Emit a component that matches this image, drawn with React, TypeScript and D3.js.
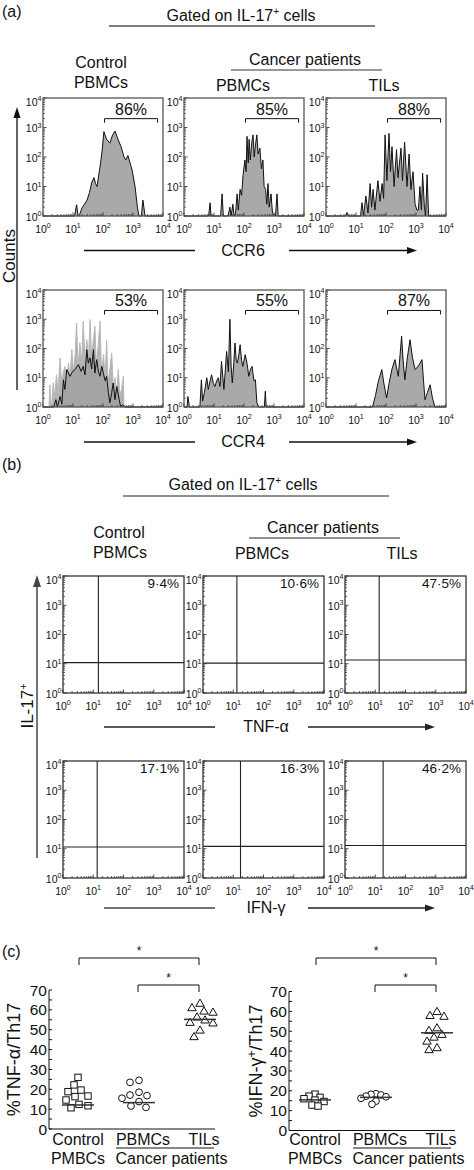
import React from "react";
import * as d3 from "d3";

const FONT = "'Liberation Sans', Arial, Helvetica, sans-serif";

// ---------------- Panel (a): histograms, pairs of [log10 intensity, log10 count]
const ccr6Control = [[0,0],[1.05,0],[1.12,0.38],[1.17,0],[1.22,0.05],[1.3,0.27],[1.47,0.54],[1.55,0.8],[1.63,1.15],[1.7,1.3],[1.75,1.1],[1.8,1.0],[1.9,1.66],[1.97,2.2],[2.03,2.86],[2.12,2.6],[2.23,2.47],[2.32,2.75],[2.4,2.88],[2.5,2.6],[2.6,2.35],[2.7,2.0],[2.76,1.9],[2.83,2.05],[2.97,1.56],[3.07,0.98],[3.15,0.27],[3.2,0],[3.28,0],[3.33,0.54],[3.4,0],[4,0]];
const ccr6Pbmc = [[0,0],[0.82,0],[0.87,0.45],[0.9,0],[1.22,0],[1.27,0.75],[1.31,0],[1.47,0],[1.53,0.3],[1.57,0],[1.63,0.4],[1.67,0],[1.72,0.1],[1.77,0.75],[1.81,0.2],[1.87,0.9],[1.92,0.7],[1.97,1.4],[2.03,1.9],[2.07,1.5],[2.1,2.7],[2.14,1.8],[2.17,2.6],[2.21,1.9],[2.26,2.5],[2.3,2.75],[2.34,2.0],[2.38,2.4],[2.43,2.75],[2.47,2.1],[2.53,2.3],[2.58,1.6],[2.63,1.9],[2.67,1.0],[2.72,0.9],[2.76,0.4],[2.8,1.1],[2.84,0.3],[2.9,0.75],[2.95,0.1],[3.05,0],[3.1,0.75],[3.14,0],[4,0]];
const ccr6Til = [[0,0],[0.65,0],[0.7,0.12],[0.75,0],[1.15,0],[1.2,0.45],[1.25,0],[1.33,0.68],[1.4,0.1],[1.47,1.1],[1.52,0.3],[1.57,0.9],[1.63,0.2],[1.73,1.2],[1.8,0.5],[1.87,1.1],[1.92,0.6],[1.97,2.75],[2.03,1.2],[2.1,2.8],[2.15,1.5],[2.2,2.35],[2.27,1.0],[2.35,2.25],[2.4,1.3],[2.5,2.3],[2.55,1.2],[2.62,2.5],[2.7,1.0],[2.77,2.1],[2.83,0.9],[2.9,1.5],[2.97,0.4],[3.03,0.2],[3.08,0.2],[3.13,1.0],[3.18,0.2],[3.22,1.45],[3.28,0.3],[3.32,0],[3.37,1.4],[3.42,0],[4,0]];
const ccr4ControlGray = [[0,0],[0.2,0],[0.23,0.75],[0.26,0],[0.3,0.2],[0.34,0.82],[0.38,0.3],[0.45,1.1],[0.5,0.5],[0.57,1.68],[0.62,0.8],[0.68,1.2],[0.73,1.39],[0.78,0.9],[0.85,1.5],[0.9,1.0],[0.96,1.96],[1.02,1.2],[1.07,1.8],[1.12,2.87],[1.17,1.4],[1.23,2.2],[1.29,1.5],[1.34,2.93],[1.4,1.6],[1.46,2.3],[1.52,1.7],[1.57,2.99],[1.62,1.6],[1.67,2.2],[1.73,2.76],[1.78,1.4],[1.84,2.1],[1.9,2.93],[1.95,1.2],[2.02,1.8],[2.07,0.9],[2.12,2.3],[2.17,0.8],[2.23,1.3],[2.29,1.85],[2.34,0.7],[2.4,1.0],[2.45,0.4],[2.51,1.28],[2.56,0.4],[2.62,0.6],[2.68,1.05],[2.7,0],[4,0]];
const ccr4ControlBlack = [[0,0],[0.36,0],[0.43,0.25],[0.48,0],[0.57,0.36],[0.63,0.1],[0.68,0.93],[0.73,0.6],[0.79,1.28],[0.9,1.05],[0.99,1.22],[1.07,1.28],[1.18,1.45],[1.27,1.22],[1.34,1.39],[1.4,1.1],[1.46,1.96],[1.51,1.5],[1.57,1.68],[1.62,1.3],[1.68,1.96],[1.73,1.16],[1.79,1.62],[1.85,1.2],[1.9,1.05],[1.96,1.39],[2.01,1.16],[2.07,0.9],[2.12,1.05],[2.18,0.48],[2.23,0.14],[2.29,0.5],[2.34,0.82],[2.4,0.25],[2.46,0.7],[2.54,0.25],[2.59,0],[2.65,0.08],[2.73,0],[4,0]];
const ccr4Pbmc = [[0,0],[0.1,0],[0.13,0.36],[0.18,0],[0.53,0],[0.58,0.93],[0.62,0.2],[0.68,0.5],[0.76,1.0],[0.81,0.6],[0.87,0.9],[0.92,1.1],[0.98,0.8],[1.03,0.7],[1.09,0.9],[1.14,1.0],[1.2,0.7],[1.25,1.56],[1.33,0.6],[1.38,1.3],[1.42,1.9],[1.48,1.2],[1.53,3.0],[1.57,1.4],[1.61,0.82],[1.66,1.5],[1.7,2.19],[1.74,1.6],[1.78,1.5],[1.83,1.8],[1.87,2.13],[1.92,1.6],[1.96,1.39],[2.0,1.6],[2.04,1.79],[2.1,1.5],[2.16,1.05],[2.22,1.3],[2.27,1.39],[2.33,0.9],[2.38,0.93],[2.43,0.14],[2.49,0],[2.68,0],[2.71,0.54],[2.74,0],[4,0]];
const ccr4Til = [[0,0],[1.55,0],[1.65,0.4],[1.75,0.9],[1.86,1.28],[1.93,0.8],[2.02,0.31],[2.1,0.8],[2.2,1.3],[2.3,1.62],[2.36,1.3],[2.41,1.05],[2.47,1.8],[2.52,2.42],[2.57,1.6],[2.63,0.93],[2.7,1.6],[2.8,2.3],[2.88,1.7],[2.97,1.28],[3.08,1.4],[3.2,1.62],[3.25,0.9],[3.3,0.25],[3.38,0.5],[3.47,0.76],[3.55,0.3],[3.63,0],[4,0]];
const ccr6Pct = [86, 85, 88];
const ccr4Pct = [53, 55, 87];
const gateRange = [2.05, 3.82]; // log10 intensity
const gateLevel = 3.3; // log10 count
const decades = [0, 1, 2, 3, 4];

// ---------------- Panel (b): quadrant plots
const tnfPct = [9.4, 10.6, 47.5];
const ifnPct = [17.1, 16.3, 46.2];
const tnfQuad = [[1.17, 1.04], [1.12, 1.02], [1.13, 1.13]]; // log10 x, log10 y
const ifnQuad = [[1.13, 1.06], [1.24, 1.08], [1.26, 1.11]];

// ---------------- Panel (c): scatter
const categories = ["Control", "PBMCs", "TILs"];
const tnfControl = [26.0, 22.2, 19.6, 18.8, 16.6, 16.3, 14.6, 12.4, 11.7, 10.7];
const tnfPbmc = [24.5, 23.5, 18.5, 17.1, 16.8, 15.5, 13.8, 11.6, 10.9];
const tnfTil = [63.3, 61.1, 59.4, 58.8, 56.4, 54.9, 53.7, 53.4, 49.8, 46.5];
const tnfMedian = [12.1, 13.3, 55.2];
const ifnControl = [18.3, 17.3, 16.7, 16.0, 15.3, 14.6, 12.8, 12.3];
const ifnPbmc = [18.5, 18.2, 17.9, 17.3, 17.0, 16.2, 14.8, 13.2];
const ifnTil = [59.9, 57.9, 57.5, 51.7, 50.4, 48.4, 47.0, 45.0, 41.7, 40.7];
const ifnMedian = [15.4, 16.7, 49.2];
const pctTicks = [0, 10, 20, 30, 40, 50, 60, 70];
const sigPairs = [["Control", "TILs"], ["PBMCs", "TILs"]];

// ---------------- helpers
const pow = (e: number) => Math.pow(10, e);

function Pow10({ x, y, e, anchor = "middle", size = 10.5 }: any) {
  return (
    <text x={x} y={y} textAnchor={anchor} fontSize={size} fontFamily={FONT} fill="#111">
      10<tspan dy={-4.5} fontSize={size * 0.68}>{e}</tspan>
    </text>
  );
}

function LogFrame({ left, top, w, h, xLabels, frameColor = "#555" }: any) {
  const x = d3.scaleLog().domain([1, 1e4]).range([left, left + w]);
  const y = d3.scaleLog().domain([1, 1e4]).range([top + h, top]);
  const minors: number[] = [];
  for (let k = 0; k < 4; k++) for (let m = 2; m <= 9; m++) minors.push(m * pow(k));
  return (
    <g>
      {minors.map((v, i) => (
        <g key={"m" + i} stroke="#222" strokeWidth={0.7}>
          <line x1={x(v)} x2={x(v)} y1={top + h} y2={top + h - 2} />
          <line x1={left} x2={left + 2} y1={y(v)} y2={y(v)} />
        </g>
      ))}
      {decades.map((d) => (
        <g key={"d" + d} stroke="#222" strokeWidth={0.8}>
          <line x1={x(pow(d))} x2={x(pow(d))} y1={top + h} y2={top + h - 3.5} />
          <line x1={left} x2={left + 3.5} y1={y(pow(d))} y2={y(pow(d))} />
        </g>
      ))}
      <rect x={left} y={top} width={w} height={h} fill="none" stroke={frameColor} strokeWidth={1.3} />
      {decades.map((d) => (
        <Pow10 key={"yl" + d} x={left - 1.5} y={y(pow(d)) + (d === 4 ? 7.5 : 4.5)} e={d} anchor="end" />
      ))}
      {xLabels && decades.map((d) => (
        <Pow10 key={"xl" + d} x={x(pow(d))} y={top + h + 16.5} e={d} />
      ))}
    </g>
  );
}

function Hist({ left, top, w, h, series, pct }: any) {
  const x = d3.scaleLog().domain([1, 1e4]).range([left, left + w]);
  const y = d3.scaleLog().domain([1, 1e4]).range([top + h, top]);
  const area = d3.area<number[]>().x((d) => x(pow(d[0]))).y0(top + h).y1((d) => y(pow(d[1])));
  const line = d3.line<number[]>().x((d) => x(pow(d[0]))).y((d) => y(pow(d[1])));
  const gx0 = x(pow(gateRange[0]));
  const gx1 = x(pow(gateRange[1]));
  const gy = y(pow(gateLevel));
  return (
    <g>
      {series.map((s: any, i: number) => (
        <g key={i}>
          <path d={area(s.data) || ""} fill={s.fill} stroke="none" />
          <path d={line(s.data) || ""} fill="none" stroke={s.stroke} strokeWidth={1} strokeLinejoin="round" />
        </g>
      ))}
      <LogFrame left={left} top={top} w={w} h={h} xLabels />
      <path d={`M${gx0},${gy + 4}V${gy}H${gx1}V${gy + 4}`} fill="none" stroke="#111" strokeWidth={1} />
      <text x={(gx0 + gx1) / 2} y={gy - 4} textAnchor="middle" fontSize={16} fontFamily={FONT} fill="#111">{pct}%</text>
    </g>
  );
}

function Quad({ left, top, w, h, quad, pct }: any) {
  const x = d3.scaleLog().domain([1, 1e4]).range([left, left + w]);
  const y = d3.scaleLog().domain([1, 1e4]).range([top + h, top]);
  return (
    <g>
      <line x1={x(pow(quad[0]))} x2={x(pow(quad[0]))} y1={top} y2={top + h} stroke="#222" strokeWidth={1.1} />
      <line x1={left} x2={left + w} y1={y(pow(quad[1]))} y2={y(pow(quad[1]))} stroke="#222" strokeWidth={1.1} />
      <LogFrame left={left} top={top} w={w} h={h} xLabels frameColor="#333" />
      <text x={left + w - 5} y={top + 12} textAnchor="end" fontSize={13.5} fontFamily={FONT} fill="#111">
        {String(pct.toFixed(1)).replace(".", "·")}%
      </text>
    </g>
  );
}

function swarm(vals: number[], cx: number, y: (v: number) => number, dist: number) {
  const placed: { x: number; y: number }[] = [];
  const sorted = [...vals].sort((a, b) => b - a);
  for (const v of sorted) {
    const py = y(v);
    let dx = 0;
    for (let k = 0; k < 80; k++) {
      const cand = k === 0 ? 0 : k % 2 ? -Math.ceil(k / 2) : Math.ceil(k / 2);
      const ok = placed.every((p) => Math.hypot(p.x - (cx + cand), p.y - py) >= dist);
      if (ok) { dx = cand; break; }
    }
    placed.push({ x: cx + dx, y: py });
  }
  return placed;
}

function Marker({ kind, x, y }: any) {
  const common = { fill: "#fff", stroke: "#111", strokeWidth: 1 };
  if (kind === 0) return <rect x={x - 3.2} y={y - 3.2} width={6.4} height={6.4} {...common} />;
  if (kind === 1) return <circle cx={x} cy={y} r={3.4} {...common} />;
  return <path d={`M${x},${y - 4.2}L${x + 4.2},${y + 3}L${x - 4.2},${y + 3}Z`} {...common} />;
}

function Scatter({ axisX, y0, y70, xr, groups, medians, label, labelX, dists }: any) {
  const y = d3.scaleLinear().domain([0, 70]).range([y0, y70]);
  const xs = d3.scalePoint<string>().domain(categories).range(xr);
  const minorTicks = d3.range(0, 71, 5);
  const axisEnd = axisX + 166;
  const b1 = 958, b2 = 985;
  return (
    <g fontFamily={FONT} fill="#111">
      <line x1={axisX} x2={axisX} y1={y(70)} y2={y(0)} stroke="#111" strokeWidth={1} />
      <line x1={axisX} x2={axisEnd} y1={y(0)} y2={y(0)} stroke="#111" strokeWidth={1} />
      {minorTicks.map((t) => (
        <line key={t} x1={axisX} x2={axisX + 3} y1={y(t)} y2={y(t)} stroke="#111" strokeWidth={1} />
      ))}
      {pctTicks.map((t) => (
        <text key={t} x={axisX - 2} y={y(t) + 5.5} textAnchor="end" fontSize={15.5}>{t}</text>
      ))}
      <text transform={`translate(${labelX},${(y(0) + y(70)) / 2}) rotate(-90)`} textAnchor="middle" fontSize={18}>
        {label}
      </text>
      {groups.map((vals: number[], gi: number) =>
        swarm(vals, xs(categories[gi])!, y, dists[gi]).map((p, i) => <Marker key={gi + "-" + i} kind={gi} x={p.x} y={p.y} />)
      )}
      {medians.map((m: number, gi: number) => (
        <line key={"md" + gi} x1={xs(categories[gi])! - 16} x2={xs(categories[gi])! + 16} y1={y(m)} y2={y(m)} stroke="#333" strokeWidth={1.5} />
      ))}
      {sigPairs.map((pair, i) => {
        const a = xs(pair[0])! + (i === 0 ? 1 : -1);
        const b = xs(pair[1])! - 1;
        const by = i === 0 ? b1 : b2;
        return (
          <g key={"sig" + i}>
            <path d={`M${a},${by + 7}V${by}H${b}V${by + 7}`} fill="none" stroke="#111" strokeWidth={1} />
            <text x={(a + b) / 2} y={by - 3} textAnchor="middle" fontSize={12}>*</text>
          </g>
        );
      })}
      <text x={xs("Control")} y={1145} textAnchor="middle" fontSize={16}>Control</text>
      <text x={xs("Control")} y={1164} textAnchor="middle" fontSize={16}>PMBCs</text>
      <text x={xs("PBMCs")! + 4} y={1145} textAnchor="middle" fontSize={16}>PBMCs</text>
      <text x={xs("TILs")! + 4} y={1145} textAnchor="middle" fontSize={16}>TILs</text>
      <line x1={xs("PBMCs")! - 23} x2={xs("TILs")! + 14} y1={1148} y2={1148} stroke="#111" strokeWidth={1} />
      <text x={(xs("PBMCs")! + xs("TILs")!) / 2 + 2} y={1164} textAnchor="middle" fontSize={16}>Cancer patients</text>
    </g>
  );
}

function Txt({ x, y, children, size = 16, anchor = "middle" }: any) {
  return (
    <text x={x} y={y} textAnchor={anchor} fontSize={size} fontFamily={FONT} fill="#111">{children}</text>
  );
}

function ArrowLine({ x1, x2, y, color = "#111", arrow = false }: any) {
  return (
    <g>
      <line x1={x1} x2={arrow ? x2 - 6 : x2} y1={y} y2={y} stroke={color} strokeWidth={1.3} />
      {arrow && <path d={`M${x2},${y}L${x2 - 10},${y - 3.5}L${x2 - 10},${y + 3.5}Z`} fill={color} />}
    </g>
  );
}

export default function App() {
  const aLefts = [43, 184, 326];
  const aTops = [98, 290];
  const bLefts = [63, 203, 345];
  const bTops = [576, 761];
  const ccr6Series = [
    [{ data: ccr6Control, fill: "#a9a9a9", stroke: "#111" }],
    [{ data: ccr6Pbmc, fill: "#a9a9a9", stroke: "#111" }],
    [{ data: ccr6Til, fill: "#a9a9a9", stroke: "#111" }],
  ];
  const ccr4Series = [
    [
      { data: ccr4ControlGray, fill: "#b3b3b3", stroke: "#b8b8b8" },
      { data: ccr4ControlBlack, fill: "#a4a4a4", stroke: "#111" },
    ],
    [{ data: ccr4Pbmc, fill: "#a9a9a9", stroke: "#111" }],
    [{ data: ccr4Til, fill: "#a9a9a9", stroke: "#111" }],
  ];
  return (
    <svg width={474} height={1170} style={{ position: "absolute", left: 0, top: 0, background: "#fff" }}>
      <rect width={474} height={1170} fill="#fff" />
      {/* Panel (a) */}
      <Txt x={2} y={17} anchor="start">(a)</Txt>
      <text x={241} y={21} textAnchor="middle" fontSize={16} fontFamily={FONT} fill="#111">
        Gated on IL-17<tspan dy={-6} fontSize={10}>+</tspan><tspan dy={6}> cells</tspan>
      </text>
      <line x1={109} x2={375} y1={26} y2={26} stroke="#555" strokeWidth={1.3} />
      <Txt x={101} y={68}>Control</Txt>
      <Txt x={101} y={88}>PBMCs</Txt>
      <Txt x={305} y={65}>Cancer patients</Txt>
      <line x1={231} x2={382} y1={70} y2={70} stroke="#333" strokeWidth={1.2} />
      <Txt x={243} y={91}>PBMCs</Txt>
      <Txt x={384} y={91}>TILs</Txt>
      <line x1={17} x2={17} y1={116} y2={390} stroke="#111" strokeWidth={1.3} />
      <path d="M17,107L13.5,118L20.5,118Z" fill="#111" />
      <text transform="translate(15,256) rotate(-90)" textAnchor="middle" fontSize={17} fontFamily={FONT} fill="#111">Counts</text>
      {aLefts.map((l, i) => (
        <Hist key={"r1" + i} left={l} top={aTops[0]} w={120} h={118} series={ccr6Series[i]} pct={ccr6Pct[i]} />
      ))}
      {aLefts.map((l, i) => (
        <Hist key={"r2" + i} left={l} top={aTops[1]} w={120} h={117} series={ccr4Series[i]} pct={ccr4Pct[i]} />
      ))}
      <ArrowLine x1={84} x2={195} y={250.5} />
      <Txt x={243} y={256}>CCR6</Txt>
      <ArrowLine x1={289} x2={417} y={250.5} arrow />
      <ArrowLine x1={84} x2={195} y={442} />
      <Txt x={243} y={447}>CCR4</Txt>
      <ArrowLine x1={289} x2={417} y={442} arrow />

      {/* Panel (b) */}
      <Txt x={2} y={470} anchor="start">(b)</Txt>
      <text x={243} y={490} textAnchor="middle" fontSize={16} fontFamily={FONT} fill="#111">
        Gated on IL-17<tspan dy={-6} fontSize={10}>+</tspan><tspan dy={6}> cells</tspan>
      </text>
      <line x1={123} x2={389} y1={496} y2={496} stroke="#222" strokeWidth={1.2} />
      <Txt x={119} y={538}>Control</Txt>
      <Txt x={120} y={558}>PBMCs</Txt>
      <Txt x={323} y={533}>Cancer patients</Txt>
      <line x1={249} x2={400} y1={538} y2={538} stroke="#222" strokeWidth={1.2} />
      <Txt x={262} y={559}>PBMCs</Txt>
      <Txt x={402} y={559}>TILs</Txt>
      <line x1={37} x2={37} y1={584} y2={858} stroke="#666" strokeWidth={1.8} />
      <path d="M37,575L33,587L41,587Z" fill="#444" />
      <text transform="translate(33,706) rotate(-90)" textAnchor="middle" fontSize={17} fontFamily={FONT} fill="#111">
        IL-17<tspan dy={-6} fontSize={11}>+</tspan>
      </text>
      {bLefts.map((l, i) => (
        <Quad key={"b1" + i} left={l} top={bTops[0]} w={121} h={117} quad={tnfQuad[i]} pct={tnfPct[i]} />
      ))}
      {bLefts.map((l, i) => (
        <Quad key={"b2" + i} left={l} top={bTops[1]} w={121} h={117} quad={ifnQuad[i]} pct={ifnPct[i]} />
      ))}
      <ArrowLine x1={104} x2={215} y={727} color="#222" />
      <Txt x={266} y={732}>TNF-α</Txt>
      <ArrowLine x1={308} x2={435} y={727} arrow color="#222" />
      <ArrowLine x1={104} x2={215} y={908} color="#444" />
      <Txt x={266} y={913}>IFN-γ</Txt>
      <ArrowLine x1={308} x2={435} y={908} arrow color="#222" />

      {/* Panel (c) */}
      <Txt x={2} y={957} anchor="start">(c)</Txt>
      <Scatter
        axisX={49}
        y0={1129}
        y70={990}
        xr={[78, 200]}
        groups={[tnfControl, tnfPbmc, tnfTil]}
        medians={tnfMedian}
        dists={[8.5, 8.5, 8.5]}
        labelX={20}
        label={<tspan>%TNF-α/Th17</tspan>}
      />
      <Scatter
        axisX={289}
        y0={1130.5}
        y70={991.5}
        xr={[315, 437]}
        groups={[ifnControl, ifnPbmc, ifnTil]}
        medians={ifnMedian}
        dists={[5.5, 5, 8]}
        labelX={262}
        label={<>
          <tspan>%IFN-γ</tspan><tspan dy={-6} fontSize={12}>+</tspan><tspan dy={6}>/Th17</tspan>
        </>}
      />
    </svg>
  );
}
